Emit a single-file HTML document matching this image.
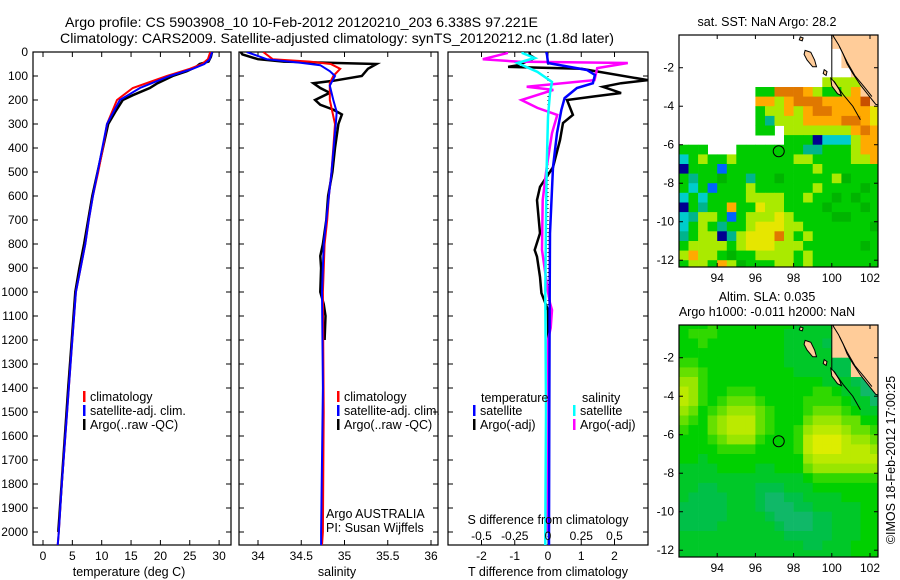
<!DOCTYPE html>
<html><head><meta charset="utf-8"><title>Argo profile</title>
<style>
html,body{margin:0;padding:0;background:#fff;}
svg{display:block;font-family:"Liberation Sans",sans-serif;}
text{fill:#000;}
</style></head>
<body>
<svg id="chart" xmlns="http://www.w3.org/2000/svg" width="900" height="580" viewBox="0 0 900 580">
<rect x="0" y="0" width="900" height="580" fill="#fff"/>
<text x="65" y="27" font-size="14" textLength="473" lengthAdjust="spacingAndGlyphs">Argo profile: CS 5903908_10 10-Feb-2012 20120210_203 6.338S 97.221E</text>
<text x="60" y="43" font-size="14" textLength="554" lengthAdjust="spacingAndGlyphs">Climatology: CARS2009. Satellite-adjusted climatology: synTS_20120212.nc (1.8d later)</text>
</svg>
<script>
// ---------- DATA ----------
const depthTicks = [0,100,200,300,400,500,600,700,800,900,1000,1100,1200,1300,1400,1500,1600,1700,1800,1900,2000];
const tempTicks = [0,5,10,15,20,25,30];
const salTicks = [34,34.5,35,35.5,36];
const salTickLabels = ["34","34.5","35","35.5","36"];
const dTTicks = [-2,-1,0,1,2];
const dSTicks = [-0.5,-0.25,0,0.25,0.5];
const dSTickLabels = ["-0.5","-0.25","0","0.25","0.5"];

const tClimDepth = [0,30,50,70,100,150,200,300,400,500,600,700,800,900,1000,1200,1400,1500,1800,2000,2055];
const tClimVal   = [28.5,28.1,27.1,25,21.1,15.3,12.6,10.9,10.2,9.4,8.5,7.8,7.2,6.4,5.6,5.0,4.4,4.1,3.2,2.7,2.5];
const tSatDepth  = [0,30,50,70,100,150,200,300,400,500,600,700,800,900,1000,1200,1400,1500,1800,2000,2055];
const tSatVal    = [28.8,28.4,27.5,25.5,21.6,16.5,13.1,10.9,10.1,9.3,8.5,7.8,7.2,6.4,5.6,5.0,4.4,4.1,3.2,2.7,2.5];
const tArgoDepth = [0,20,40,50,60,80,100,130,150,180,200,250,300,400,500,600,700,800,900,1000,1200,1400,2000];
const tArgoVal   = [28.8,28.6,28.2,26.7,26.2,24.5,22.1,19.5,18.2,15.3,13.6,12.3,11.1,10.2,9.3,8.4,7.7,7.0,6.2,5.5,4.9,4.3,2.6];

const sClimDepth = [0,30,40,50,70,100,130,200,300,400,500,600,700,800,1000,1500,2000,2055];
const sClimVal   = [34.06,34.17,34.6,34.84,34.95,34.87,34.83,34.83,34.89,34.87,34.85,34.82,34.8,34.77,34.75,34.76,34.75,34.74];
const sSatDepth  = [0,30,45,55,80,100,140,200,250,300,500,800,1000,1400,2000,2055];
const sSatVal    = [33.87,34.1,34.49,34.72,34.83,34.89,34.83,34.87,34.91,34.9,34.85,34.76,34.74,34.75,34.73,34.73];
const sArgoDepth = [0,10,30,40,50,70,100,120,130,150,170,200,220,240,260,300,400,500,600,700,800,850,900,1000,1050,1100,1200];
const sArgoVal   = [33.8,33.82,34.0,34.3,35.37,35.27,35.2,34.87,34.64,34.72,34.83,34.66,34.72,34.87,34.97,34.93,34.89,34.86,34.81,34.79,34.75,34.72,34.73,34.72,34.76,34.78,34.77];

const dTSatDepth  = [0,12,46,75,96,130,150,192,242,338,480,755,1000,1500,2000,2055];
const dTSatVal    = [-0.05,-0.03,0,1.17,1.41,1.35,0.87,0.5,0.4,0.27,0.15,0.06,0.05,0.04,0.03,0.03];
const dTArgoDepth = [0,12,25,55,62,70,117,130,145,171,185,200,262,296,367,480,562,617,755,825,853,937,1004,1075,1200,1500,2000];
const dTArgoVal   = [-0.55,-0.55,-0.4,-0.9,-1.2,1.0,3.0,2.2,1.65,2.2,1.4,0.57,0.75,0.45,0.36,0.15,-0.24,-0.33,-0.24,-0.4,-0.33,-0.24,-0.2,0,0.01,0.01,0.0];
const dSSatDepth  = [0,5,25,46,83,125,171,270,480,700,1000,1500,2000,2055];
const dSSatVal    = [-0.19,-0.19,-0.1,-0.23,-0.08,0.03,0.015,0,-0.01,-0.015,-0.02,-0.015,-0.02,-0.02];
const dSArgoDepth = [0,5,30,40,46,67,117,145,158,200,233,262,338,480,617,825,1000,1046,1075,1150,1200,1500,2000];
const dSArgoVal   = [-0.31,-0.31,-0.49,-0.23,0.6,0.37,0.35,-0.16,0.04,-0.2,-0.08,0.07,0.03,-0.01,-0.04,-0.045,0,0.015,0.03,0.02,0,-0.005,0];

const lonTicks = [94,96,98,100,102];
const latTicks = [-2,-4,-6,-8,-10,-12];
const argoLon = 97.221, argoLat = -6.338;
// SST grid: 0.5 deg cells, rows from lat 0 downward, cols from lon 92 eastward
const sstRows = [
"................LLLLL",
"................LLLLL",
".................LLLL",
".................LLLL",
"..................LLL",
"...............yyyyLL",
"........ggOOOoyggyoLL",
"........ooyoOOOooooRL",
"........gyyoyoOOooooY",
"........gtyyyooooOOoY",
"........gg.yyyyyyyoOo",
"...........gggbcccyoo",
"ggg...gggggggttgggyoo",
"cgyggyggggggyyggggyyo",
"bgggBgggggggggygggggg",
"gtggGggtggGgggggyGggg",
"gcgBgggyggggggyggggGg",
"cgcggggyyyyggyggGgGgg",
"bgtggoggYyyggggGgggGg",
"ctyygBgyyyYyggggGGggg",
"cgygtggyYYYyygggggggG",
"tgyybtyYYYOygyggggggg",
"gyyyygyYYYyyyggggggGg",
"yoyygGggyyyygyggggggg",
"gyygoyGgggyygyggggggg"];
const slaRows = [
"4445444444443333LLLLL",
"4555444444433333LLLLL",
"4454444444433332LLLLL",
"4444444444433333LLLLL",
"554444444443333322LLL",
"665444444444333322LLL",
"775444444444444333211",
"875445554444445543311",
"875456665444455554331",
"764567776544456665433",
"654678886544467776644",
"544678886544578887665",
"444567775444589998776",
"444455554444589998887",
"443444444444478888888",
"333344443344467777777",
"333333333333345555555",
"332233332223334444444",
"322223332112233334444",
"222223332111223333344",
"222223333211112233344",
"222233333321112233344",
"333333333332222233344",
"333333333333322333444",
"333333333333333333444"];
const landMain = [[99.95,0],[103,0],[103,-4.1],[102.3,-3.9],[101.9,-3.4],[101.5,-2.9],[101.1,-2.3],[100.8,-1.8],[100.6,-1.3],[100.35,-0.8],[100.1,-0.4]];
const islandA = [[98.6,-1.1],[98.9,-1.2],[99.1,-1.6],[99.2,-1.95],[99.0,-1.95],[98.7,-1.6],[98.55,-1.3]];
const islandB = [[99.95,-2.55],[100.15,-2.75],[100.4,-3.15],[100.5,-3.45],[100.3,-3.35],[100.0,-2.95]];
const islandC = [[99.6,-2.1],[99.75,-2.2],[99.7,-2.4],[99.55,-2.3]];
const islandD = [[98.35,-0.4],[98.5,-0.45],[98.45,-0.6],[98.3,-0.55]];

// ---------- HELPERS ----------
const NS='http://www.w3.org/2000/svg';
const svg=document.getElementById('chart');
function mk(tag,attrs,parent){const e=document.createElementNS(NS,tag);for(const k in attrs)e.setAttribute(k,attrs[k]);(parent||svg).appendChild(e);return e;}
function txt(x,y,s,size,anchor,parent){const t=mk('text',{x:x,y:y,'font-size':size,'text-anchor':anchor||'start'},parent);t.textContent=s;return t;}

const Y0=52, YS=0.24; const yD=d=>Y0+d*YS;
const xT=t=>43+t*5.87;
const xS=s=>258+(s-34)*86.5;
const xDT=v=>548+v*33.25;
const xDS=v=>548+v*133;

const defs=mk('defs',{});
function clip(id,x,y,w,h){const c=mk('clipPath',{id:id},defs);mk('rect',{x:x,y:y,width:w,height:h},c);}
clip('c1',33,52,198,493);clip('c2',239,52,199,493);clip('c3',448,52,200,493);
clip('m1',679,35,199,232);clip('m2',679,325,199,232);

function panelFrame(name,x0,x1,yTicks,labelsLeft){
  const g=mk('g',{});
  
  
  mk('rect',{x:x0,y:52,width:x1-x0,height:493,fill:'none',stroke:'#000','stroke-width':1.2},g);
  depthTicks.forEach(d=>{const y=yD(d);
    mk('line',{x1:x0,y1:y,x2:x0+5,y2:y,stroke:'#000'},g);
    mk('line',{x1:x1-5,y1:y,x2:x1,y2:y,stroke:'#000'},g);
    if(labelsLeft){const t=txt(x0-5,y+4,String(d),12,'end',g);
      
      }
  });
  return g;
}
function xTicks(g,xs,x0,x1){xs.forEach(x=>{mk('line',{x1:x,y1:545,x2:x,y2:540,stroke:'#000'},g);mk('line',{x1:x,y1:52,x2:x,y2:57,stroke:'#000'},g);});}
function series(g,depths,vals,fx,color,clipId,name,w){
  const pts=depths.map((d,i)=>fx(vals[i]).toFixed(1)+','+yD(d).toFixed(1)).join(' ');
  const p=mk('polyline',{points:pts,fill:'none',stroke:color,'stroke-width':w||2,'clip-path':'url(#'+clipId+')','stroke-linejoin':'miter'},g);
  
  
  return p;
}
function legendRow(g,x,y,color,label){
  const b=mk('rect',{x:x,y:y-8,width:2.5,height:11,fill:color},g);
  
  
  const t=txt(x+7,y+2,label,12.5,'start',g);
  
  
}

// ---------- PANEL 1: temperature ----------
const g1=panelFrame('temperature-panel',33,231,depthTicks,true);
xTicks(g1,tempTicks.map(xT));
tempTicks.forEach(t=>{const e=txt(xT(t),560,String(t),12,'middle',g1);
  
  });
const xt1=txt(129,576,'temperature (deg C)',12.5,'middle',g1);


series(g1,tArgoDepth,tArgoVal,xT,'#000','c1','temp-argo-line',2.5);
series(g1,tClimDepth,tClimVal,xT,'#f00','c1','temp-climatology-line');
series(g1,tSatDepth,tSatVal,xT,'#00f','c1','temp-satellite-line');
legendRow(g1,83,399,'#f00','climatology');
legendRow(g1,83,413,'#00f','satellite-adj. clim.');
legendRow(g1,83,427,'#000','Argo(..raw -QC)');

// ---------- PANEL 2: salinity ----------
const g2=panelFrame('salinity-panel',239,438,depthTicks,false);
xTicks(g2,salTicks.map(xS));
salTicks.forEach((s,i)=>{const e=txt(xS(s),560,salTickLabels[i],12,'middle',g2);
  
  });
const xt2=txt(337,576,'salinity',12.5,'middle',g2);


series(g2,sArgoDepth,sArgoVal,xS,'#000','c2','salinity-argo-line',2.5);
series(g2,sClimDepth,sClimVal,xS,'#f00','c2','salinity-climatology-line');
series(g2,sSatDepth,sSatVal,xS,'#00f','c2','salinity-satellite-line');
legendRow(g2,337,399,'#f00','climatology');
legendRow(g2,337,413,'#00f','satellite-adj. clim.');
legendRow(g2,337,427,'#000','Argo(..raw -QC)');
const ag=txt(326,518,'Argo AUSTRALIA',12.5,'start',g2);


const pi=txt(326,532,'PI: Susan Wijffels',12.5,'start',g2);



// ---------- PANEL 3: differences ----------
const g3=panelFrame('difference-panel',448,648,depthTicks,false);
xTicks(g3,dTTicks.map(xDT));
mk('line',{x1:xDT(0),y1:52,x2:xDT(0),y2:545,stroke:'#000','stroke-dasharray':'1,3','stroke-width':1},g3);
series(g3,dTArgoDepth,dTArgoVal,xDT,'#000','c3','tdiff-argo-line',2.5);
series(g3,dSArgoDepth,dSArgoVal,xDS,'#f0f','c3','sdiff-argo-line',2.5);
series(g3,dTSatDepth,dTSatVal,xDT,'#00f','c3','tdiff-satellite-line',2.5);
series(g3,dSSatDepth,dSSatVal,xDS,'#0ff','c3','sdiff-satellite-line',2.5);
dTTicks.forEach(v=>{const e=txt(xDT(v),560,String(v),12,'middle',g3);
  
  });
dSTicks.forEach((v,i)=>{const e=txt(xDS(v),540,dSTickLabels[i],12,'middle',g3);
  
  });
const st=txt(548,524,'S difference from climatology',12.5,'middle',g3);


const tt=txt(548,576,'T difference from climatology',12.5,'middle',g3);


const lt=txt(481,402,'temperature',12.5,'start',g3);


const ls=txt(582,402,'salinity',12.5,'start',g3);


legendRow(g3,473,413,'#00f','satellite');
legendRow(g3,473,427,'#000','Argo(-adj)');
legendRow(g3,573,413,'#0ff','satellite');
legendRow(g3,573,427,'#f0f','Argo(-adj)');

// ---------- MAPS ----------
const MX0=679,MX1=878;
const lonX=l=>MX0+(l-92.0)*19.1;
function makeMap(name,top,rows,colorFn,clipId,titles,titleYs){
  const latY=l=>top+(-0.3-l)*19.25;
  const g=mk('g',{});
  
  
  const cg=mk('g',{'clip-path':'url(#'+clipId+')'},g);
  rows.forEach((row,r)=>{
    for(let c=0;c<21;c++){const ch=row[c]||'.';const col=colorFn(ch);if(!col)continue;
      const x=lonX(92+c*0.5),y=latY(-r*0.5);
      const cell=mk('rect',{x:x.toFixed(1),y:y.toFixed(1),width:9.9,height:10,fill:col},cg);
      
      }
  });
  const poly=(pts,fill)=>mk('polygon',{points:pts.map(p=>lonX(p[0]).toFixed(1)+','+latY(p[1]).toFixed(1)).join(' '),fill:fill,stroke:'#000','stroke-width':1},cg);
  const land=poly(landMain,'#ffcc99');
  
  
  [islandA,islandB,islandC,islandD].forEach(p=>poly(p,'#ffcc99'));
  mk('line',{x1:lonX(100),y1:latY(-0.3),x2:lonX(100),y2:latY(-2.6),stroke:'#000'},cg);
  mk('polyline',{points:[[100.1,-2.7],[100.6,-3.4],[101.1,-4.0],[101.5,-4.7]].map(p=>lonX(p[0])+','+latY(p[1])).join(' '),fill:'none',stroke:'#000'},cg);
  mk('polyline',{points:[[100.4,-0.9],[100.8,-1.7],[101.2,-2.4],[101.7,-3.0],[102.1,-3.5]].map(p=>lonX(p[0])+','+latY(p[1])).join(' '),fill:'none',stroke:'#000'},cg);
  const m=mk('circle',{cx:lonX(argoLon),cy:latY(argoLat),r:5.5,fill:'none',stroke:'#000','stroke-width':1},g);
  
  
  const bottom=top+232;
  mk('rect',{x:MX0,y:top,width:MX1-MX0,height:232,fill:'none',stroke:'#000','stroke-width':1.2},g);
  lonTicks.forEach(l=>{const x=lonX(l);
    mk('line',{x1:x,y1:top,x2:x,y2:top+4,stroke:'#000'},g);
    mk('line',{x1:x,y1:bottom,x2:x,y2:bottom-4,stroke:'#000'},g);
    const t=txt(x,bottom+15,String(l),12,'middle',g);
    
    });
  latTicks.forEach(l=>{const y=latY(l);
    mk('line',{x1:MX0,y1:y,x2:MX0+4,y2:y,stroke:'#000'},g);
    mk('line',{x1:MX1,y1:y,x2:MX1-4,y2:y,stroke:'#000'},g);
    const t=txt(MX0-5,y+4,String(l),12,'end',g);
    
    });
  titles.forEach((s,i)=>{const t=txt(767,titleYs[i],s,12.5,'middle',g);
    
    });
}
const sstColors={L:'#ffcc99',g:'#00cc00',G:'#00b400',y:'#aaea00',Y:'#e6e600',o:'#ffaa00',O:'#e07800',R:'#c85000',c:'#00cccc',t:'#00b48c',b:'#000090',B:'#0064ff'};
makeMap('sst-map',35,sstRows,ch=>sstColors[ch]||null,'m1',['sat. SST: NaN Argo: 28.2'],[26]);
const slaPal=['#20b088','#10b868','#00c048','#00c828','#00d000','#30d800','#66e000','#99e600','#bbea00','#dded00'];
makeMap('sla-map',325,slaRows,ch=>ch==='L'?'#ffcc99':(ch>='0'&&ch<='9'?slaPal[+ch]:null),'m2',['Altim. SLA: 0.035','Argo h1000: -0.011 h2000: NaN'],[301,316]);

const cr=txt(0,0,'©IMOS 18-Feb-2012 17:00:25',12.5,'middle');
cr.setAttribute('transform','translate(895,460) rotate(-90)');


</script>
</body></html>
